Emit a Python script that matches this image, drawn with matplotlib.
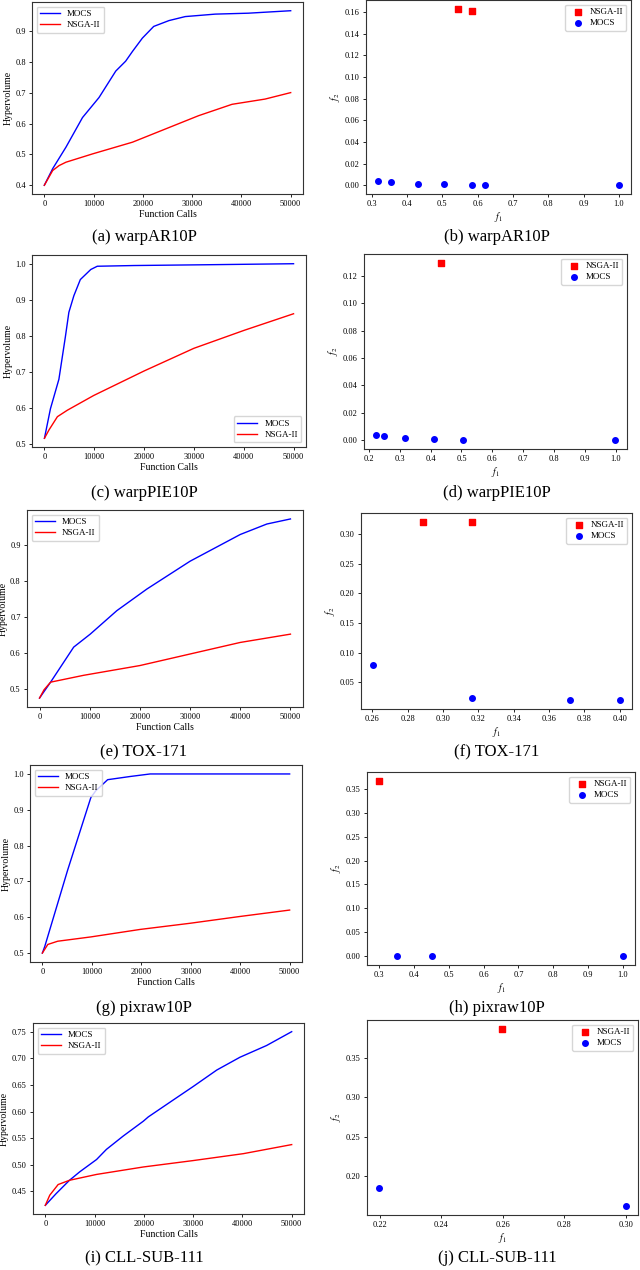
import matplotlib
matplotlib.use("Agg")
import matplotlib.pyplot as plt

plt.rcParams['font.family'] = ['Liberation Serif', 'DejaVu Serif']
plt.rcParams['mathtext.fontset'] = 'stix'

# ---------------- data ----------------
# (a) warpAR10P convergence
a_mocs_x = [0, 1700, 4400, 7750, 11100, 14500, 16500, 17900, 19900, 22200, 25300, 28600, 34700, 41400, 50000]
a_mocs_y = [0.400, 0.454, 0.524, 0.620, 0.685, 0.771, 0.803, 0.835, 0.878, 0.916, 0.935, 0.948, 0.956, 0.959, 0.967]
a_nsga_x = [0, 1700, 3000, 4400, 9800, 17900, 24600, 31300, 38100, 44800, 50000]
a_nsga_y = [0.400, 0.448, 0.464, 0.475, 0.502, 0.540, 0.583, 0.626, 0.663, 0.680, 0.701]

# (c) warpPIE10P convergence
c_mocs_x = [0, 1200, 2900, 4200, 4900, 5900, 7200, 9300, 10600, 18000, 31400, 50000]
c_mocs_y = [0.515, 0.597, 0.679, 0.797, 0.865, 0.911, 0.956, 0.984, 0.993, 0.995, 0.997, 1.000]
c_nsga_x = [0, 900, 2600, 4600, 9900, 20000, 30000, 40100, 50000]
c_nsga_y = [0.515, 0.538, 0.575, 0.593, 0.634, 0.702, 0.765, 0.815, 0.861]

# (e) TOX-171 convergence
e_mocs_x = [0, 2200, 6800, 10100, 15400, 21400, 30000, 40000, 45300, 50000]
e_mocs_y = [0.475, 0.519, 0.616, 0.652, 0.717, 0.777, 0.854, 0.928, 0.957, 0.971]
e_nsga_x = [0, 900, 2200, 8800, 20000, 30000, 40000, 50000]
e_nsga_y = [0.475, 0.498, 0.519, 0.538, 0.565, 0.597, 0.629, 0.652]

# (g) pixraw10P convergence
g_mocs_x = [0, 500, 5100, 9800, 10800, 13200, 17800, 21800, 50000]
g_mocs_y = [0.500, 0.519, 0.731, 0.934, 0.953, 0.984, 0.993, 1.000, 1.000]
g_nsga_x = [0, 1100, 3100, 9800, 19800, 29800, 39900, 50000]
g_nsga_y = [0.500, 0.524, 0.533, 0.545, 0.566, 0.583, 0.602, 0.620]

# (i) CLL-SUB-111 convergence
i_mocs_x = [0, 2200, 4900, 7000, 10400, 12400, 15800, 19900, 20900, 26000, 30000, 34800, 39500, 44900, 50000]
i_mocs_y = [0.424, 0.446, 0.471, 0.487, 0.510, 0.529, 0.554, 0.582, 0.590, 0.622, 0.647, 0.678, 0.702, 0.724, 0.750]
i_nsga_x = [0, 900, 2600, 4900, 10400, 19900, 30000, 40200, 50000]
i_nsga_y = [0.424, 0.443, 0.463, 0.471, 0.482, 0.496, 0.508, 0.521, 0.538]

# (b) warpAR10P Pareto fronts
b_nsga_f1 = [0.544, 0.584]
b_nsga_f2 = [0.1628, 0.1610]
b_mocs_f1 = [0.318, 0.355, 0.4315, 0.506, 0.583, 0.620, 1.000]
b_mocs_f2 = [0.0037, 0.0028, 0.0012, 0.0009, 0.0003, 0.0000, 0.0000]

# (d) warpPIE10P Pareto fronts
d_nsga_f1 = [0.4346]
d_nsga_f2 = [0.1297]
d_mocs_f1 = [0.2227, 0.2476, 0.3168, 0.4097, 0.5038, 0.998]
d_mocs_f2 = [0.0039, 0.0029, 0.0015, 0.0007, 0.0002, 0.0000]

# (f) TOX-171 Pareto fronts
f_nsga_f1 = [0.2886, 0.3164]
f_nsga_f2 = [0.3208, 0.3208]
f_mocs_f1 = [0.2606, 0.3164, 0.372, 0.400]
f_mocs_f2 = [0.0793, 0.0224, 0.0196, 0.0196]

# (h) pixraw10P Pareto fronts
h_nsga_f1 = [0.300]
h_nsga_f2 = [0.3666]
h_mocs_f1 = [0.3508, 0.4504, 1.000]
h_mocs_f2 = [0.0, 0.0, 0.0]

# (j) CLL-SUB-111 Pareto fronts
j_nsga_f1 = [0.2599]
j_nsga_f2 = [0.3867]
j_mocs_f1 = [0.2199, 0.300]
j_mocs_f2 = [0.1844, 0.1620]
j_xticks = [0.22, 0.24, 0.26, 0.28, 0.30]

captions = ["(a) warpAR10P", "(b) warpAR10P", "(c) warpPIE10P", "(d) warpPIE10P",
            "(e) TOX-171", "(f) TOX-171", "(g) pixraw10P", "(h) pixraw10P",
            "(i) CLL-SUB-111", "(j) CLL-SUB-111"]

W, H = 640, 1270
fig = plt.figure(figsize=(6.4, 12.7), dpi=100)


def box(l, t, r, b):
    return [l / W, 1 - b / H, (r - l) / W, (b - t) / H]


def style(ax):
    ax.tick_params(labelsize=6, length=2.5, width=0.6, pad=2)
    for s in ax.spines.values():
        s.set_linewidth(0.8)
        s.set_color('#333333')


def conv(rect, mx, my, nx, ny, loc):
    ax = fig.add_axes(box(*rect))
    ax.plot(mx, my, color='blue', lw=1.0, label='MOCS')
    ax.plot(nx, ny, color='red', lw=1.0, label='NSGA-II')
    ax.set_xlabel('Function Calls', fontsize=7, labelpad=1)
    ax.set_ylabel('Hypervolume', fontsize=7, labelpad=2)
    ax.set_xticks([0, 10000, 20000, 30000, 40000, 50000])
    style(ax)
    ax.legend(loc=loc, fontsize=6.5, handlelength=2.2, borderpad=0.4, labelspacing=0.3)
    return ax


def front(rect, nf1, nf2, mf1, mf2):
    ax = fig.add_axes(box(*rect))
    ax.scatter(nf1, nf2, marker='s', s=14, color='red', label='NSGA-II', zorder=3)
    ax.scatter(mf1, mf2, marker='o', s=16, color='blue', label='MOCS', zorder=3)
    ax.set_xlabel('$f_1$', fontsize=7, labelpad=1)
    ax.set_ylabel('$f_2$', fontsize=7, labelpad=2)
    style(ax)
    ax.legend(loc='upper right', fontsize=6.5, handletextpad=0.3, borderpad=0.4, labelspacing=0.3)
    return ax


conv((32, 2, 303, 194), a_mocs_x, a_mocs_y, a_nsga_x, a_nsga_y, 'upper left')
ax = front((366, 0, 631, 194), b_nsga_f1, b_nsga_f2, b_mocs_f1, b_mocs_f2)
ax.set_yticks([0.00, 0.02, 0.04, 0.06, 0.08, 0.10, 0.12, 0.14, 0.16])

conv((32, 255, 306, 447), c_mocs_x, c_mocs_y, c_nsga_x, c_nsga_y, 'lower right')
front((364, 254, 627, 449), d_nsga_f1, d_nsga_f2, d_mocs_f1, d_mocs_f2)

conv((27, 510, 303, 707), e_mocs_x, e_mocs_y, e_nsga_x, e_nsga_y, 'upper left')
front((361, 513, 632, 709), f_nsga_f1, f_nsga_f2, f_mocs_f1, f_mocs_f2)

conv((30, 765, 302, 962), g_mocs_x, g_mocs_y, g_nsga_x, g_nsga_y, 'upper left')
front((367, 772, 635, 965), h_nsga_f1, h_nsga_f2, h_mocs_f1, h_mocs_f2)

conv((33, 1023, 304, 1214), i_mocs_x, i_mocs_y, i_nsga_x, i_nsga_y, 'upper left')
ax = front((367, 1020, 638, 1215), j_nsga_f1, j_nsga_f2, j_mocs_f1, j_mocs_f2)
ax.set_xticks(j_xticks)

cap_y = [237, 493, 752, 1008, 1258]
cap_x = [144, 497]
for k, txt in enumerate(captions):
    fig.text(cap_x[k % 2] / W, 1 - cap_y[k // 2] / H, txt, ha='center', va='center',
             fontsize=12, family='Liberation Serif')

fig.savefig('out.png', dpi=100)
